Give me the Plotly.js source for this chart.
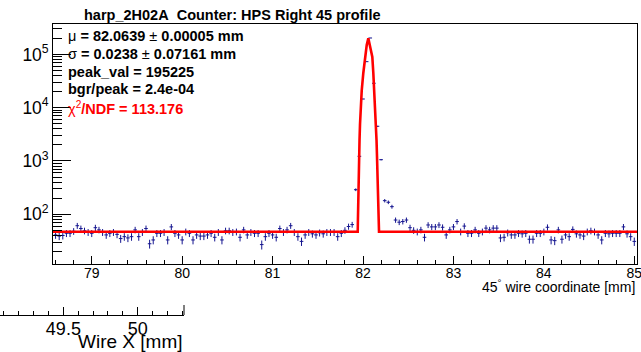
<!DOCTYPE html>
<html>
<head>
<meta charset="utf-8">
<script src="https://cdn.plot.ly/plotly-3.0.1.min.js"></script>
<style>html,body{margin:0;padding:0;background:#fff;}#chart{width:641px;height:352px;}</style>
</head>
<body>
<div id="chart"></div>
<script>
// Wire positions (bin centres, mm)
const wirePos = [
78.60,78.64,78.68,78.72,78.76,78.80,78.84,78.88,78.92,78.96,
79.00,79.04,79.08,79.12,79.16,79.20,79.24,79.28,79.32,79.36,
79.40,79.44,79.48,79.52,79.56,79.60,79.64,79.68,79.72,79.76,
79.80,79.84,79.88,79.92,79.96,80.00,80.04,80.08,80.12,80.16,
80.20,80.24,80.28,80.32,80.36,80.40,80.44,80.48,80.52,80.56,
80.60,80.64,80.68,80.72,80.76,80.80,80.84,80.88,80.92,80.96,
81.00,81.04,81.08,81.12,81.16,81.20,81.24,81.28,81.32,81.36,
81.40,81.44,81.48,81.52,81.56,81.60,81.64,81.68,81.72,81.76,
81.80,81.84,81.88,81.92,81.96,82.00,82.04,82.08,82.12,82.16,
82.20,82.24,82.28,82.32,82.36,82.40,82.44,82.48,82.52,82.56,
82.60,82.64,82.68,82.72,82.76,82.80,82.84,82.88,82.92,82.96,
83.00,83.04,83.08,83.12,83.16,83.20,83.24,83.28,83.32,83.36,
83.40,83.44,83.48,83.52,83.56,83.60,83.64,83.68,83.72,83.76,
83.80,83.84,83.88,83.92,83.96,84.00,84.04,84.08,84.12,84.16,
84.20,84.24,84.28,84.32,84.36,84.40,84.44,84.48,84.52,84.56,
84.60,84.64,84.68,84.72,84.76,84.80,84.84,84.88,84.92,84.96,
85.00];
// Counts per wire position
const counts = [
41,39,40,44,44,48,61,54,49,46,
44,56,51,46,41,44,46,42,35,38,
36,38,51,38,46,54,28,33,44,44,
46,33,58,44,41,33,47,44,33,41,
39,39,41,44,37,46,33,49,49,46,
47,37,51,41,46,44,44,27,38,44,
41,37,54,46,51,61,46,38,31,41,
46,43,41,45,43,46,46,46,38,44,
50,59,64,289,1224,14550,73000,203000,28700,4480,
1057,180,168,139,78,71,73,78,56,50,
47,51,37,63,58,58,63,57,41,51,
58,73,47,60,44,44,51,44,47,55,
51,55,55,36,37,45,41,41,44,43,
44,34,34,44,44,47,57,33,32,51,
34,41,38,52,43,41,39,47,49,47,
41,33,44,43,44,44,44,58,43,38,
31];
const binHalfWidth = 0.02;
// Fit curve as drawn
const fitX = [78.566,81.9415,81.9437,81.9459,81.9481,81.9514,81.9559,81.9614,81.9669,81.9758,81.9857,82.0034,82.0222,82.0410,82.0587,
              82.0775,82.1029,82.1140,82.1250,82.1350,82.1438,82.1494,82.1549,82.1593,82.1627,82.1660,82.1693,82.1770,85.030];
const fitY = [46.85,46.85,78,149,277,570,1189,2476,4940,10300,20850,44800,89400,150000,200000,
              150000,89400,44800,20850,10300,4940,2476,1189,570,277,120,49,46.85,46.85];

const titleText = 'harp_2H02A\u00a0\u00a0Counter: HPS Right 45 profile';
const statLines = [
  'μ <b>= 82.0639</b> ± <b>0.00005 mm</b>',
  'σ <b>= 0.0238</b> ± <b>0.07161 mm</b>',
  '<b>peak_val = 195225</b>',
  '<b>bgr/peak = 2.4e-04</b>',
  'χ<sup>2</sup><b>/NDF = 113.176</b>'
];
const statColors = ['black','black','black','black','#ff0000'];
const xTitle = '45<sup>°</sup>\u00a0wire coordinate [mm]';
const x2Title = 'Wire X [mm]';

const FONT = 'Liberation Sans, Arial, Helvetica, sans-serif';
const W = 641, H = 352;
const px = v => v / W;
const py = v => 1 - v / H;
const BLUE = '#14148f';

const dataTrace = {
  x: wirePos, y: counts, type: 'scatter', mode: 'markers',
  marker: {size: 1, color: 'rgba(0,0,0,0)', line: {width: 0}},
  error_x: {type: 'constant', value: binHalfWidth, width: 0, thickness: 1, color: BLUE},
  error_y: {type: 'data', array: counts.map(Math.sqrt), width: 0, thickness: 1, color: BLUE},
  hoverinfo: 'skip', xaxis: 'x', yaxis: 'y'
};
const fitTrace = {
  x: fitX, y: fitY, type: 'scatter', mode: 'lines',
  line: {color: '#ff0000', width: 2.6}, hoverinfo: 'skip', xaxis: 'x', yaxis: 'y'
};
const dummy = {x: [], y: [], type: 'scatter', mode: 'markers', xaxis: 'x2', yaxis: 'y2', hoverinfo: 'skip'};

const annotations = [
  {text: '<b>' + titleText + '</b>', x: px(232), y: py(15), xref: 'paper', yref: 'paper',
   xanchor: 'center', yanchor: 'middle', showarrow: false, font: {size: 14.5, family: FONT, color: 'black'}},
  {text: xTitle, x: px(637), y: py(286), xref: 'paper', yref: 'paper',
   xanchor: 'right', yanchor: 'middle', showarrow: false, font: {size: 14, family: FONT, color: 'black'}},
  {text: x2Title, x: px(185), y: py(341), xref: 'paper', yref: 'paper',
   xanchor: 'right', yanchor: 'middle', showarrow: false, font: {size: 19, family: FONT, color: 'black'}}
];
const statY = [36, 54.3, 71.7, 89.3, 108.3];
statLines.forEach((t, i) => annotations.push({
  text: t, x: px(66), y: py(statY[i]), xref: 'paper', yref: 'paper',
  xanchor: 'left', yanchor: 'middle', showarrow: false,
  font: {size: 14.5, family: FONT, color: statColors[i]}
}));

const layout = {
  width: W, height: H, margin: {l: 0, r: 0, t: 0, b: 0, pad: 0},
  paper_bgcolor: 'white', plot_bgcolor: 'rgba(0,0,0,0)', showlegend: false,
  font: {family: FONT, color: 'black'},
  xaxis: {domain: [px(52.5), px(637)], range: [78.566, 85.03], anchor: 'y',
    showgrid: false, zeroline: false, showline: true, mirror: true, linecolor: 'black', linewidth: 1,
    ticks: 'inside', ticklen: 8, tickcolor: 'black', tick0: 0, dtick: 1,
    ticklabelstandoff: -4, ticklabeloverflow: 'allow',
    tickfont: {size: 14, family: FONT},
    minor: {ticks: 'inside', ticklen: 4, tickcolor: 'black', dtick: 0.2, showgrid: false}},
  yaxis: {domain: [py(264), py(24)], type: 'log', range: [1.067, 5.57], anchor: 'x',
    showgrid: false, zeroline: false, showline: true, mirror: true, linecolor: 'black', linewidth: 1,
    ticks: 'inside', ticklen: 18, tickcolor: 'black', dtick: 1, exponentformat: 'power',
    ticklabeloverflow: 'allow',
    tickfont: {size: 14, family: FONT},
    minor: {ticks: 'inside', ticklen: 9, tickcolor: 'black', dtick: 'D1', showgrid: false}},
  xaxis2: {domain: [0, px(184)], range: [49.074, 50.311], anchor: 'y2',
    showgrid: false, zeroline: false, showline: true, linecolor: 'black', linewidth: 1,
    ticks: 'inside', ticklen: 8, tickcolor: 'black', tick0: 0, dtick: 0.5,
    ticklabelstandoff: -3, ticklabeloverflow: 'allow',
    tickfont: {size: 18, family: FONT},
    minor: {ticks: 'inside', ticklen: 4, tickcolor: 'black', dtick: 0.1, showgrid: false}},
  yaxis2: {domain: [py(315), py(305)], anchor: 'x2', visible: false, range: [0, 1]},
  shapes: [
    {type: 'line', xref: 'paper', yref: 'paper', x0: px(184), x1: px(184), y0: py(315), y1: py(305),
     line: {color: 'black', width: 1}}
  ],
  annotations: annotations
};

Plotly.newPlot('chart', [dataTrace, fitTrace, dummy], layout, {staticPlot: true, displayModeBar: false});
</script>
</body>
</html>
